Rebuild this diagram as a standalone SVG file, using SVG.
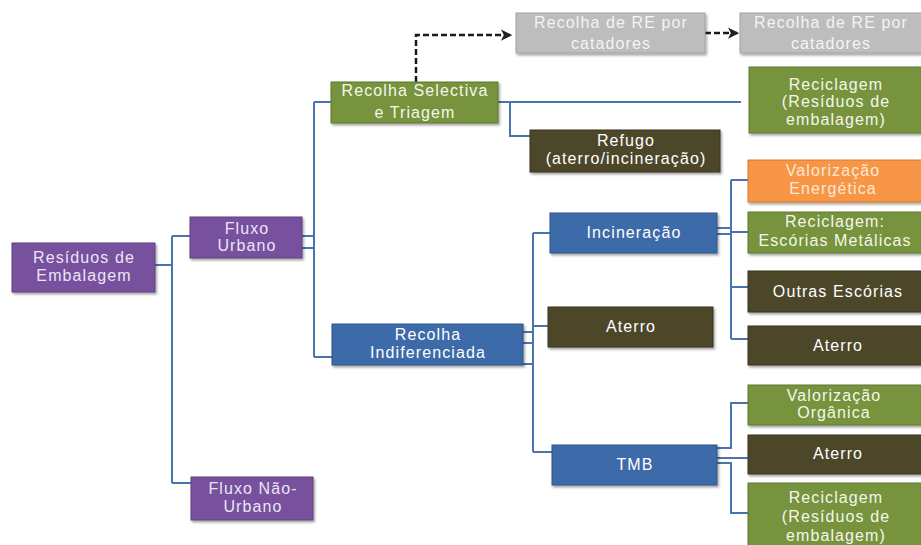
<svg xmlns="http://www.w3.org/2000/svg" width="921" height="545" viewBox="0 0 921 545">
  <defs>
    <filter id="sh" x="-5%" y="-10%" width="115%" height="130%">
      <feDropShadow dx="1.5" dy="2" stdDeviation="1.2" flood-color="#000" flood-opacity="0.35"/>
    </filter>
    <marker id="arr" viewBox="0 0 10 10" refX="8" refY="5" markerWidth="4.5" markerHeight="4.5" orient="auto" markerUnits="strokeWidth">
      <path d="M0,0 L10,5 L0,10 L2.5,5 Z" fill="#222"/>
    </marker>
    <style>
      .box { filter: url(#sh); stroke-width: 1; }
      .purple { fill: #77519d; stroke: #5e3f80; }
      .green { fill: #77933c; stroke: #5f7830; }
      .olive { fill: #4d4629; stroke: #3a3520; }
      .blue { fill: #3e6aa8; stroke: #2f5488; }
      .orange { fill: #f79646; stroke: #d9782c; }
      .grey { fill: #bdbdbd; stroke: #a3a3a3; }
      text { font-family: "Liberation Sans", Arial, sans-serif; font-size: 16px; letter-spacing: 1.1px; text-anchor: middle; fill: #ffffff; }
      .tp { fill: #ece4f5; }
      .tg { fill: #f3f7ea; }
      .tgr { fill: #f4f4f4; }
      .to { fill: #fde8d4; }
      .link { fill: none; stroke: #4a74b0; stroke-width: 2; }
      .dash { fill: none; stroke: #1a1a1a; stroke-width: 2.5; stroke-dasharray: 6 3; }
    </style>
  </defs>

  <rect width="921" height="545" fill="#ffffff"/>

  <!-- connectors -->
  <g id="connectors">
    <path class="link" d="M155,265 H172 M172,236 V483 M172,236 H190 M172,483 H191"/>
    <path class="link" d="M302,236 H314 M302,248 H314 M314,102 V357 M314,102 H331 M314,357 H332"/>
    <path class="link" d="M498,102 H741 M510,102 V136 H530"/>
    <path class="link" d="M523,332 H533 M523,343 H533 M523,364 H533 M533,233 V452 M533,233 H550 M533,326 H548 M533,452 H552"/>
    <path class="link" d="M717,228 H731 M717,234 H731 M731,180 V339 M731,180 H748 M731,232 H748 M731,287 H748 M731,339 H748"/>
    <path class="link" d="M717,448 H731 V403 H748 M717,458 H748 M717,463 H731 V513 H748"/>
    <path class="dash" d="M416,82 V35 H510" marker-end="url(#arr)"/>
    <path class="dash" d="M705,33 H737" marker-end="url(#arr)"/>
  </g>

  <g id="residuos-embalagem">
    <rect class="box purple" x="12" y="243" width="143" height="49"/>
    <text class="tp" x="84" y="263">Resíduos de</text>
    <text class="tp" x="84" y="281">Embalagem</text>
  </g>

  <g id="fluxo-urbano">
    <rect class="box purple" x="190" y="217" width="112" height="41"/>
    <text class="tp" x="247" y="234">Fluxo</text>
    <text class="tp" x="247" y="251">Urbano</text>
  </g>

  <g id="fluxo-nao-urbano">
    <rect class="box purple" x="191" y="477" width="122" height="43"/>
    <text class="tp" x="253" y="494">Fluxo Não-</text>
    <text class="tp" x="253" y="512">Urbano</text>
  </g>

  <g id="recolha-selectiva">
    <rect class="box green" x="331" y="82" width="167" height="41"/>
    <text class="tg" x="415" y="96">Recolha Selectiva</text>
    <text class="tg" x="415" y="118">e Triagem</text>
  </g>

  <g id="catadores-1">
    <rect class="box grey" x="516" y="13" width="189" height="40"/>
    <text class="tgr" x="611" y="28">Recolha de RE por</text>
    <text class="tgr" x="611" y="49">catadores</text>
  </g>

  <g id="catadores-2">
    <rect class="box grey" x="740" y="13" width="190" height="40"/>
    <text class="tgr" x="831" y="28">Recolha de RE por</text>
    <text class="tgr" x="831" y="49">catadores</text>
  </g>

  <g id="reciclagem-selectiva">
    <rect class="box green" x="749" y="67" width="180" height="66"/>
    <text class="tg" x="836" y="90">Reciclagem</text>
    <text class="tg" x="836" y="107">(Resíduos de</text>
    <text class="tg" x="836" y="125">embalagem)</text>
  </g>

  <g id="refugo">
    <rect class="box olive" x="530" y="130" width="190" height="42"/>
    <text x="626" y="146">Refugo</text>
    <text x="626" y="164">(aterro/incineração)</text>
  </g>

  <g id="recolha-indiferenciada">
    <rect class="box blue" x="332" y="324" width="191" height="41"/>
    <text x="428" y="340">Recolha</text>
    <text x="428" y="358">Indiferenciada</text>
  </g>

  <g id="incineracao">
    <rect class="box blue" x="550" y="213" width="167" height="40"/>
    <text x="634" y="238">Incineração</text>
  </g>

  <g id="aterro-directo">
    <rect class="box olive" x="548" y="307" width="165" height="40"/>
    <text x="631" y="332">Aterro</text>
  </g>

  <g id="tmb">
    <rect class="box blue" x="552" y="445" width="165" height="40"/>
    <text x="635" y="470">TMB</text>
  </g>

  <g id="valorizacao-energetica">
    <rect class="box orange" x="748" y="160" width="180" height="42"/>
    <text class="to" x="833" y="176">Valorização</text>
    <text class="to" x="833" y="194">Energética</text>
  </g>

  <g id="escorias-metalicas">
    <rect class="box green" x="748" y="212" width="180" height="41"/>
    <text class="tg" x="835" y="227">Reciclagem:</text>
    <text class="tg" x="835" y="246">Escórias Metálicas</text>
  </g>

  <g id="outras-escorias">
    <rect class="box olive" x="748" y="271" width="180" height="41"/>
    <text x="838" y="297">Outras Escórias</text>
  </g>

  <g id="aterro-escorias">
    <rect class="box olive" x="748" y="326" width="180" height="39"/>
    <text x="838" y="351">Aterro</text>
  </g>

  <g id="valorizacao-organica">
    <rect class="box green" x="748" y="385" width="180" height="40"/>
    <text class="tg" x="834" y="401">Valorização</text>
    <text class="tg" x="834" y="418">Orgânica</text>
  </g>

  <g id="aterro-tmb">
    <rect class="box olive" x="748" y="435" width="180" height="39"/>
    <text x="838" y="459">Aterro</text>
  </g>

  <g id="reciclagem-tmb">
    <rect class="box green" x="748" y="483" width="180" height="70"/>
    <text class="tg" x="836" y="503">Reciclagem</text>
    <text class="tg" x="836" y="522">(Resíduos de</text>
    <text class="tg" x="836" y="541">embalagem)</text>
  </g>
</svg>
